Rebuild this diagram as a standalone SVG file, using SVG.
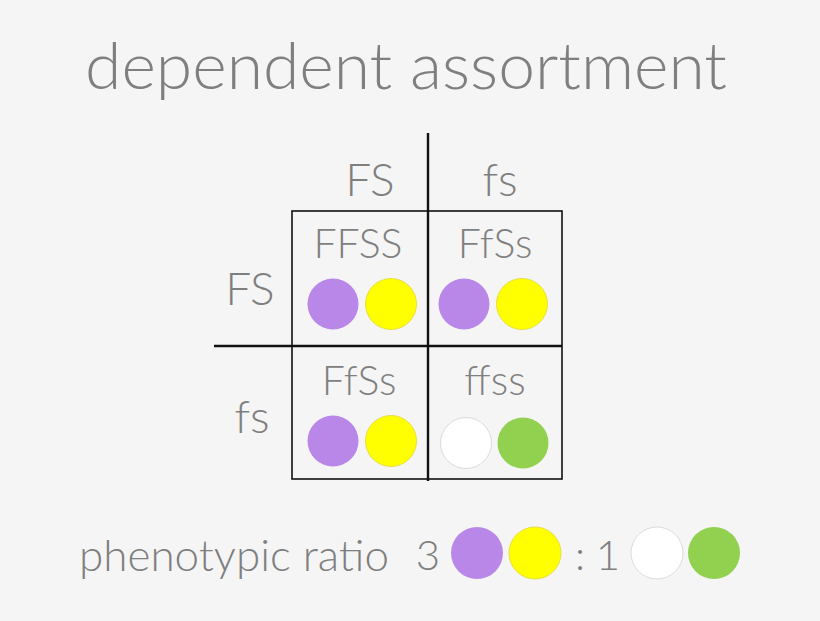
<svg xmlns="http://www.w3.org/2000/svg" width="820" height="621" viewBox="0 0 820 621">
<style>
text{font-family:Lato,"Noto Sans","Liberation Sans",sans-serif;font-weight:300;fill:#7f7f7f}
.hdr{font-size:46px;text-anchor:middle}
.cell{font-size:41px;text-anchor:middle}
.p{fill:#b987e8}
.y{fill:#ffff00;stroke:#e6e040;stroke-width:1}
.w{fill:#ffffff;stroke:#dcdcdc;stroke-width:1}
.g{fill:#92d050}
.ln{stroke:#111;fill:none}
</style>
<rect width="820" height="621" fill="#f5f5f5"/>
<text id="title" x="406" y="89" font-size="66" text-anchor="middle">dependent assortment</text>
<g id="connectors">
<rect class="ln" x="292" y="211" width="270" height="268" stroke-width="1.6"/>
<line class="ln" x1="428" y1="133" x2="428" y2="481" stroke-width="2.4"/>
<line class="ln" x1="214" y1="346" x2="562" y2="346" stroke-width="2.4"/>
</g>
<g id="col-FS"><text class="hdr" x="370" y="196">FS</text></g>
<g id="col-fs"><text class="hdr" x="500" y="196">fs</text></g>
<g id="row-FS"><text class="hdr" x="250" y="305">FS</text></g>
<g id="row-fs"><text class="hdr" x="252" y="433">fs</text></g>
<g id="cell-FFSS">
<text class="cell" x="358" y="258">FFSS</text>
<circle class="p" cx="333" cy="304" r="25.5"/>
<circle class="y" cx="391" cy="304" r="25.5"/>
</g>
<g id="cell-FfSs-1">
<text class="cell" x="495" y="258">FfSs</text>
<circle class="p" cx="464" cy="304" r="25.5"/>
<circle class="y" cx="522" cy="304" r="25.5"/>
</g>
<g id="cell-FfSs-2">
<text class="cell" x="359" y="395">FfSs</text>
<circle class="p" cx="333" cy="441" r="25.5"/>
<circle class="y" cx="391" cy="441" r="25.5"/>
</g>
<g id="cell-ffss">
<text class="cell" x="495" y="395">ffss</text>
<circle class="w" cx="466" cy="443" r="25.5"/>
<circle class="g" cx="523" cy="443" r="25.5"/>
</g>
<g id="ratio">
<text x="79" y="571" font-size="44">phenotypic ratio</text>
<text x="428" y="570" font-size="42" text-anchor="middle">3</text>
<circle class="p" cx="477" cy="553" r="26"/>
<circle class="y" cx="535" cy="553" r="26"/>
<text x="580" y="570" font-size="42" text-anchor="middle">:</text>
<text x="608" y="570" font-size="42" text-anchor="middle">1</text>
<circle class="w" cx="657" cy="553" r="26"/>
<circle class="g" cx="714" cy="553" r="26"/>
</g>
</svg>
